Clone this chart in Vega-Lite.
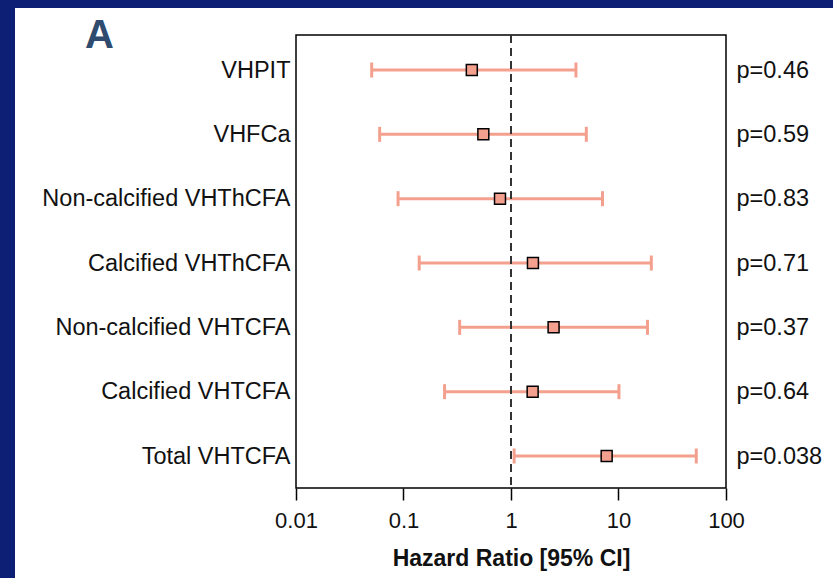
{
  "$schema": "https://vega.github.io/schema/vega-lite/v6.json",
  "padding": 0,
  "background": "white",
  "config": {"font": "Liberation Sans", "view": {"stroke": null}, "concat": {"spacing": 0}},
  "spacing": 0,
  "bounds": "flush",
  "vconcat": [
    {
      "width": 833, "height": 8,
      "data": {"values": []},
      "mark": "rect", "encoding": {},
      "view": {"fill": "#0c1f74", "stroke": null}
    },
    {
      "spacing": 281,
      "bounds": "flush",
      "hconcat": [
        {
          "width": 15, "height": 570,
          "data": {"values": []},
          "mark": "rect", "encoding": {},
          "view": {"fill": "#0c1f74", "stroke": null}
        },
        {
          "spacing": 0,
          "bounds": "flush",
          "vconcat": [
            {
              "width": 430, "height": 27,
              "data": {"values": []},
              "mark": "rect", "encoding": {},
              "view": {"stroke": null}
            },
            {
              "width": 430,
              "height": 453,
              "title": {"text": "A", "anchor": "start", "frame": "group", "fontSize": 40, "fontWeight": "bold", "color": "#2f4b6e", "font": "Liberation Sans", "baseline": "alphabetic", "offset": 0, "dx": -211, "dy": 54},
              "view": {"stroke": "black", "strokeWidth": 1.5, "fill": "white"},
              "data": {"values": [
                {"label": "VHPIT", "p": "p=0.46", "hr": 0.432, "lo": 0.0506, "hi": 4.02},
                {"label": "VHFCa", "p": "p=0.59", "hr": 0.553, "lo": 0.060, "hi": 5.02},
                {"label": "Non-calcified VHThCFA", "p": "p=0.83", "hr": 0.79, "lo": 0.089, "hi": 7.1},
                {"label": "Calcified VHThCFA", "p": "p=0.71", "hr": 1.60, "lo": 0.140, "hi": 20.2},
                {"label": "Non-calcified VHTCFA", "p": "p=0.37", "hr": 2.49, "lo": 0.333, "hi": 18.6},
                {"label": "Calcified VHTCFA", "p": "p=0.64", "hr": 1.59, "lo": 0.241, "hi": 10.1},
                {"label": "Total VHTCFA", "p": "p=0.038", "hr": 7.76, "lo": 1.07, "hi": 52.9}
              ]},
              "layer": [
                {
                  "layer": [
                    {
                      "mark": {"type": "rule", "color": "#f4a08e", "strokeWidth": 3},
                      "encoding": {
                        "y": {"field": "label", "type": "nominal", "sort": null,
                          "scale": {"type": "point", "range": [35, 421], "padding": 0},
                          "axis": {"title": null, "domain": false, "ticks": false, "grid": false, "labelPadding": 6, "labelFontSize": 23.5, "labelColor": "#111111", "labelLimit": 400}},
                        "x": {"field": "lo", "type": "quantitative",
                          "scale": {"type": "log", "domain": [0.01, 100]},
                          "axis": {"values": [0.01, 0.1, 1, 10, 100], "format": "~g", "grid": false, "domain": false,
                            "tickColor": "black", "tickSize": 12, "tickWidth": 1.5,
                            "labelFontSize": 22, "labelColor": "#111111", "labelPadding": 10, "labelFlush": false, "labelOverlap": false,
                            "title": "Hazard Ratio [95% CI]", "titleFontSize": 23, "titleFontWeight": "bold", "titleColor": "#111111", "titlePadding": 16}},
                        "x2": {"field": "hi"}
                      }
                    },
                    {
                      "mark": {"type": "tick", "color": "#f4a08e", "thickness": 3, "size": 15, "orient": "vertical", "opacity": 1},
                      "encoding": {
                        "y": {"field": "label", "type": "nominal", "sort": null},
                        "x": {"field": "lo", "type": "quantitative"}
                      }
                    },
                    {
                      "mark": {"type": "tick", "color": "#f4a08e", "thickness": 3, "size": 15, "orient": "vertical", "opacity": 1},
                      "encoding": {
                        "y": {"field": "label", "type": "nominal", "sort": null},
                        "x": {"field": "hi", "type": "quantitative"}
                      }
                    },
                    {
                      "mark": {"type": "rule", "color": "#333333", "strokeWidth": 2, "strokeDash": [8, 5]},
                      "encoding": {"x": {"datum": 1}}
                    },
                    {
                      "mark": {"type": "square", "size": 120, "fill": "#f4a08e", "stroke": "black", "strokeWidth": 1.5, "opacity": 1},
                      "encoding": {
                        "y": {"field": "label", "type": "nominal", "sort": null},
                        "x": {"field": "hr", "type": "quantitative"}
                      }
                    }
                  ]
                },
                {
                  "mark": {"type": "point", "opacity": 0},
                  "encoding": {
                    "y": {"field": "p", "type": "nominal", "sort": null,
                      "scale": {"type": "point", "range": [35, 421], "padding": 0},
                      "axis": {"orient": "right", "title": null, "domain": false, "ticks": false, "grid": false, "labelPadding": 10, "labelFontSize": 23.5, "labelColor": "#111111", "labelLimit": 200}},
                    "x": {"field": "hr", "type": "quantitative"}
                  }
                }
              ],
              "resolve": {"scale": {"y": "independent"}}
            }
          ]
        }
      ]
    }
  ]
}
